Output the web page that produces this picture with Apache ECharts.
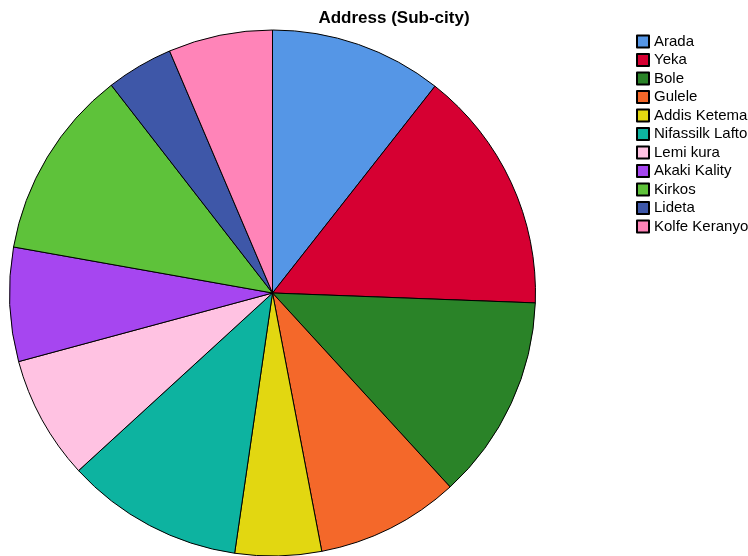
<!DOCTYPE html>
<html>
<head>
<meta charset="utf-8">
<script src="https://cdn.jsdelivr.net/npm/echarts@6/dist/echarts.min.js"></script>
<style>
  html, body { margin: 0; padding: 0; background: #fff; }
  #chart { width: 748px; height: 556px; }
</style>
</head>
<body>
<div id="chart"></div>
<script>
// Share of respondents by sub-city (percent)
const subCities = ['Arada', 'Yeka', 'Bole', 'Gulele', 'Addis Ketema', 'Nifassilk Lafto',
                   'Lemi kura', 'Akaki Kality', 'Kirkos', 'Lideta', 'Kolfe Keranyo'];
const shares = [10.6, 15.0, 12.6, 8.8, 5.3, 10.9, 7.6, 7.0, 11.7, 4.1, 6.4];
const sliceColors = ['#5596E6', '#D60032', '#2A8328', '#F4682A', '#E2D711', '#0DB3A0',
                     '#FFC2E2', '#A646F0', '#5EC23A', '#3E57A8', '#FF84B8'];

const chart = echarts.init(document.getElementById('chart'), null, { renderer: 'canvas' });
chart.setOption({
  animation: false,
  title: {
    text: 'Address (Sub-city)',
    left: 389, top: 5, textAlign: 'center',
    textStyle: { fontFamily: 'Liberation Sans', fontSize: 17, fontWeight: 'bold', color: '#000' }
  },
  legend: {
    orient: 'vertical',
    left: 636, top: 34,
    padding: 0,
    itemWidth: 12, itemHeight: 12, itemGap: 3.5,
    icon: 'rect',
    textStyle: { fontFamily: 'Liberation Sans', fontSize: 15, color: '#000' },
    data: subCities
  },
  series: [{
    type: 'pie',
    center: [272.5, 293],
    radius: 263,
    startAngle: 90,
    clockwise: true,
    label: { show: false },
    labelLine: { show: false },
    emphasis: { disabled: true },
    itemStyle: { borderColor: '#000', borderWidth: 1 },
    data: subCities.map((name, i) => ({
      name, value: shares[i], itemStyle: { color: sliceColors[i] }
    }))
  }]
});
</script>
</body>
</html>
